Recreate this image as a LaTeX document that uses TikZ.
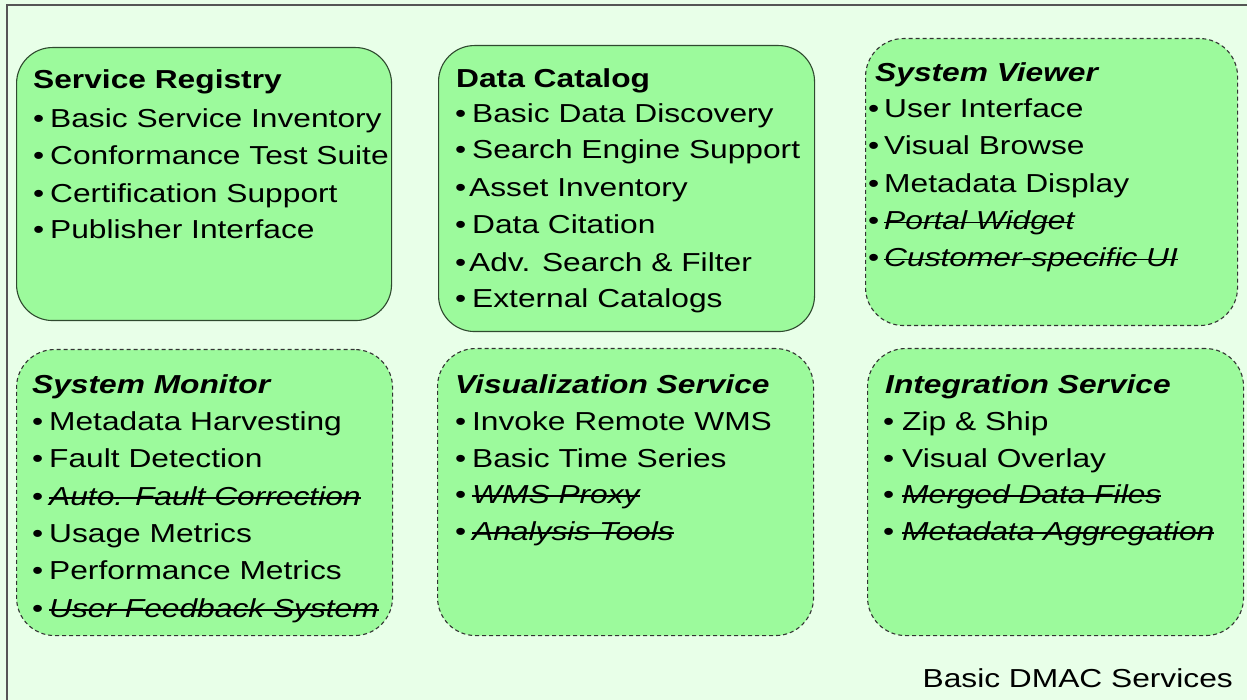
\documentclass[tikz,border=0pt]{standalone}
\usepackage{fontspec}
\setmainfont{Liberation Sans}[FakeStretch=1.22]
\definecolor{bgcol}{HTML}{E8FFE8}
\definecolor{boxfill}{HTML}{9CFA9C}
\definecolor{boxline}{HTML}{2F4A2F}
\definecolor{frameline}{HTML}{555555}
\newsavebox\strkbox
\newcommand{\bulx}{\makebox[17pt][l]{•}}
\newcommand{\strk}[1]{\sbox\strkbox{\itshape #1}\rlap{\rule[6.5pt]{\wd\strkbox}{1.3pt}}\usebox\strkbox}
\begin{document}
\begin{tikzpicture}[x=1pt,y=-1pt,
  txt/.style={anchor=base west, inner sep=0pt, font=\fontsize{26}{37}\selectfont, text=black},
  solidbox/.style={draw=boxline, line width=1.1pt, fill=boxfill, rounded corners=36pt, anchor=north west, inner sep=0pt},
  dashbox/.style={draw=black!80, line width=1.1pt, dash pattern=on 4pt off 3pt, fill=boxfill, rounded corners=38pt, anchor=north west, inner sep=0pt}]
\useasboundingbox (0,0) rectangle (1247,700);
\fill[bgcol] (0,0) rectangle (1247,700);
\draw[frameline, line width=1.6pt] (7,710) -- (7,5) -- (1260,5);

% boxes
\node[solidbox, minimum width=375pt, minimum height=273pt] (sr) at (16,47) {};
\node[solidbox, minimum width=376pt, minimum height=286pt] (dc) at (438,45) {};
\node[dashbox, minimum width=372pt, minimum height=287pt] (sv) at (865,38) {};
\node[dashbox, minimum width=376pt, minimum height=286pt] (sm) at (16,349) {};
\node[dashbox, minimum width=376pt, minimum height=287pt] (vs) at (437,348) {};
\node[dashbox, minimum width=376pt, minimum height=287pt] (is) at (867,348) {};

% Service Registry
\node[txt] (srt) at (33,89) {\textbf{Service Registry}};
\node[txt] (sr1) at (33,128) {\bulx Basic Service Inventory};
\node[txt] (sr2) at (33,165) {\bulx Conformance Test Suite};
\node[txt] (sr3) at (33,203) {\bulx Certification Support};
\node[txt] (sr4) at (33,239) {\bulx Publisher Interface};

% Data Catalog
\node[txt] (dct) at (456,88) {\textbf{Data Catalog}};
\node[txt] (dc1) at (455,123) {\bulx Basic Data Discovery};
\node[txt] (dc2) at (455,159) {\bulx Search Engine Support};
\node[txt] (dc3) at (455,197) {\makebox[14pt][l]{•}Asset Inventory};
\node[txt] (dc4) at (455,234) {\bulx Data Citation};
\node[txt] (dc5) at (455,272) {\makebox[14pt][l]{•}Adv. Search \& Filter};
\node[txt] (dc6) at (455,308) {\bulx External Catalogs};

% System Viewer
\node[txt] (svt) at (875,82) {\textbf{\textit{System Viewer}}};
\node[txt] (sv1) at (868,118) {\makebox[16pt][l]{•}User Interface};
\node[txt] (sv2) at (868,155) {\makebox[16pt][l]{•}Visual Browse};
\node[txt] (sv3) at (868,193) {\makebox[16pt][l]{•}Metadata Display};
\node[txt] (sv4) at (868,230) {\makebox[16pt][l]{•}\strk{Portal Widget}};
\node[txt] (sv5) at (868,267) {\makebox[16pt][l]{•}\strk{Customer-specific UI}};

% System Monitor
\node[txt] (smt) at (32,393) {\textbf{\textit{System Monitor}}};
\node[txt] (sm1) at (32,430) {\bulx Metadata Harvesting};
\node[txt] (sm2) at (32,467) {\bulx Fault Detection};
\node[txt] (sm3) at (32,505) {\bulx \strk{Auto. Fault Correction}};
\node[txt] (sm4) at (32,542) {\bulx Usage Metrics};
\node[txt] (sm5) at (32,579) {\bulx Performance Metrics};
\node[txt] (sm6) at (32,617) {\bulx \strk{User Feedback System}};

% Visualization Service
\node[txt] (vst) at (455,393) {\textbf{\textit{Visualization Service}}};
\node[txt] (vs1) at (455,430) {\bulx Invoke Remote WMS};
\node[txt] (vs2) at (455,467) {\bulx Basic Time Series};
\node[txt] (vs3) at (455,503) {\bulx \strk{WMS Proxy}};
\node[txt] (vs4) at (455,540) {\bulx \strk{Analysis Tools}};

% Integration Service
\node[txt] (ist) at (885,393) {\textbf{\textit{Integration Service}}};
\node[txt] (is1) at (883,430) {\makebox[19pt][l]{•}Zip \& Ship};
\node[txt] (is2) at (883,467) {\makebox[19pt][l]{•}Visual Overlay};
\node[txt] (is3) at (883,503) {\makebox[19pt][l]{•}\strk{Merged Data Files}};
\node[txt] (is4) at (883,540) {\makebox[19pt][l]{•}\strk{Metadata Aggregation}};

% caption
\node[txt, anchor=base east] (cap) at (1233,687) {Basic DMAC Services};
\end{tikzpicture}
\end{document}
